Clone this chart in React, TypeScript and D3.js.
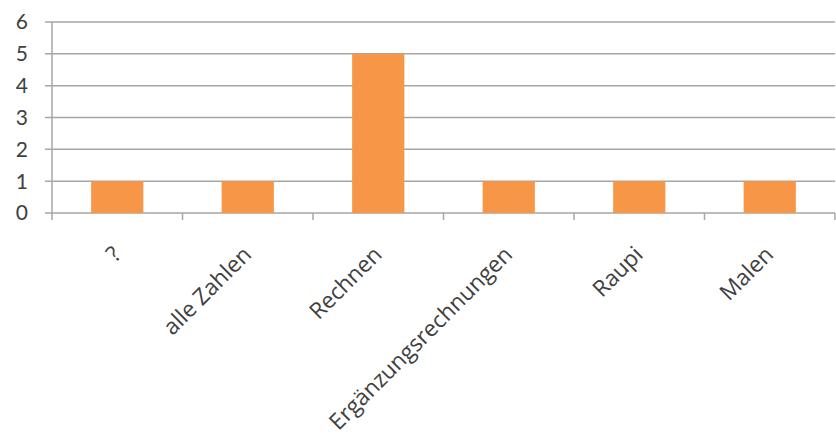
import React from "react";
import * as d3 from "d3";

const categories: string[] = ["?", "alle Zahlen", "Rechnen", "Ergänzungsrechnungen", "Raupi", "Malen"];
const values: number[] = [1, 1, 5, 1, 1, 1];
const yTicks: number[] = [0, 1, 2, 3, 4, 5, 6];

const W = 836;
const H = 437;
const left = 52;
const right = 835;
const top = 22;
const bottom = 213;

export default function App() {
  const x = d3.scaleBand<string>().domain(categories).range([left, right]).padding(0);
  const y = d3.scaleLinear().domain([0, 6]).range([bottom, top]);
  const bw = x.bandwidth();
  const barW = bw * 0.4;
  const font = "Lato, 'Open Sans', sans-serif";
  const xfont = "'Open Sans', Lato, sans-serif";
  const grid = "#a6a6a6";
  const text = "#404040";
  return (
    <svg width={W} height={H} style={{ position: "absolute", left: 0, top: 0, background: "#fff" }}>
      {yTicks.map((t) => (
        <g key={t}>
          <line x1={left - 7} x2={right} y1={y(t)} y2={y(t)} stroke={grid} strokeWidth={1.5} />
          <text x={28} y={y(t)} dy="0.35em" textAnchor="end" fontFamily={font} fontSize={21} fill={text}>
            {t}
          </text>
        </g>
      ))}
      <line x1={left} x2={left} y1={top} y2={bottom + 7} stroke={grid} strokeWidth={1.5} />
      {categories.map((c, i) => (
        <line key={"tk" + i} x1={x(c)! + bw} x2={x(c)! + bw} y1={bottom} y2={bottom + 7} stroke={grid} strokeWidth={1.5} />
      ))}
      {categories.map((c, i) => (
        <rect
          key={"b" + i}
          x={x(c)! + (bw - barW) / 2}
          y={y(values[i])}
          width={barW}
          height={y(0) - y(values[i])}
          fill="#f79646"
        />
      ))}
      {categories.map((c, i) => {
        const cx = x(c)! + bw / 2 + 5;
        const cy = 256;
        return (
          <text
            key={"l" + i}
            transform={`translate(${cx},${cy}) rotate(-45)`}
            textAnchor="end"
            fontFamily={xfont}
            fontSize={22.5}
            fill={text}
          >
            {c}
          </text>
        );
      })}
    </svg>
  );
}
